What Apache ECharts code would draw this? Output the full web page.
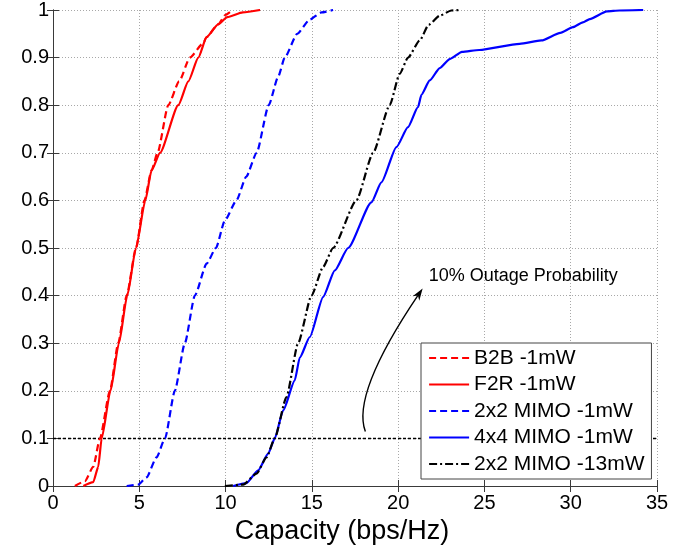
<!DOCTYPE html>
<html><head><meta charset="utf-8">
<script src="https://cdn.jsdelivr.net/npm/echarts@6/dist/echarts.min.js"></script>
<style>html,body{margin:0;padding:0;background:#fff}#c{width:698px;height:550px}</style>
</head><body><div id="c"></div>
<script>
// ---- data (capacity in bps/Hz, CDF value) ----
const seriesNames = ['B2B -1mW', 'F2R -1mW', '2x2 MIMO -1mW', '4x4 MIMO -1mW', '2x2 MIMO -13mW'];

const b2bX = [1.27, 1.85, 2.33, 2.72, 3.30, 3.78, 4.27, 4.81, 5.30, 5.71, 6.06, 6.68, 7.31, 7.93, 8.70, 8.90, 9.57, 10.0, 10.4];
const b2bY = [0, 0.01, 0.04, 0.10, 0.20, 0.30, 0.40, 0.50, 0.60, 0.663, 0.70, 0.80, 0.85, 0.90, 0.93, 0.943, 0.97, 0.99, 1.0];

const f2rX = [1.76, 2.33, 2.62, 2.82, 3.33, 3.82, 4.30, 4.81, 5.35, 5.71, 6.20, 7.26, 7.84, 8.42, 8.90, 9.57, 10.1, 11.0, 12.0];
const f2rY = [0, 0.008, 0.04, 0.10, 0.20, 0.30, 0.40, 0.50, 0.60, 0.663, 0.70, 0.80, 0.85, 0.90, 0.943, 0.97, 0.985, 0.995, 1.0];

const mimo2X = [4.27, 4.94, 5.42, 6.0, 6.49, 7.06, 7.64, 8.22, 8.90, 9.44, 9.96, 10.63, 11.2, 11.8, 12.5, 13.05, 13.43, 14.15, 14.88, 15.56, 16.23];
const mimo2Y = [0, 0.003, 0.018, 0.06, 0.10, 0.20, 0.30, 0.40, 0.467, 0.50, 0.558, 0.60, 0.65, 0.70, 0.80, 0.86, 0.90, 0.95, 0.98, 0.995, 1.0];

const mimo4X = [10.44, 11.21, 11.89, 12.47, 12.85, 13.34, 14.01, 14.30, 14.88, 15.65, 16.33, 17.10, 18.45, 19.03, 19.90, 20.57, 21.15, 21.35, 21.83, 22.41, 22.99, 23.70, 24.70, 27.04, 28.30, 29.40, 30.13, 30.70, 31.10, 32.10, 32.83, 34.2];
const mimo4Y = [0, 0.006, 0.033, 0.068, 0.10, 0.159, 0.222, 0.27, 0.313, 0.397, 0.453, 0.50, 0.596, 0.638, 0.712, 0.754, 0.796, 0.822, 0.852, 0.878, 0.897, 0.912, 0.916, 0.929, 0.936, 0.952, 0.964, 0.974, 0.981, 0.997, 0.999, 1.0];

const mimo2hX = [9.96, 11.02, 11.79, 12.37, 12.85, 13.53, 14.20, 14.98, 15.65, 16.23, 17.58, 18.55, 19.51, 20.09, 20.57, 21.25, 21.77, 22.41, 23.08, 23.57];
const mimo2hY = [0, 0.003, 0.026, 0.06, 0.10, 0.187, 0.30, 0.40, 0.46, 0.50, 0.60, 0.70, 0.80, 0.866, 0.90, 0.936, 0.969, 0.988, 0.999, 1.0];

const outageLevel = 0.1;
const annotationText = '10% Outage Probability';
const annotationPos = [21.77, 0.442];
// arrow: start, control, tip (data units)
const arrowStart = [18.1, 0.1145];
const arrowCtrl = [17.28, 0.1924];
const arrowTip = [21.42, 0.415];

const xTicks = { min: 0, max: 35, step: 5 };
const yTicks = { min: 0, max: 1, step: 0.1 };

const zip = (xs, ys) => xs.map((x, i) => [x, ys[i]]);

const FONT = 'Liberation Sans, Arial, Helvetica, sans-serif';
const axisColor = '#3a3a3a';
const gridStyle = { show: true, lineStyle: { color: '#a8a8a8', width: 1, type: [1, 2] } };

const chart = echarts.init(document.getElementById('c'), null, { renderer: 'canvas' });

function mk(name, xs, ys, color, type) {
  return {
    name, type: 'line', data: zip(xs, ys), showSymbol: false, symbol: 'none',
    smooth: 0.2, smoothMonotone: 'x', animation: false,
    lineStyle: { color, width: 2.2, type }, itemStyle: { color }
  };
}

const series = [
  mk(seriesNames[0], b2bX, b2bY, '#ff0000', [7, 4]),
  mk(seriesNames[1], f2rX, f2rY, '#ff0000', 'solid'),
  mk(seriesNames[2], mimo2X, mimo2Y, '#0000ff', [7, 4]),
  mk(seriesNames[3], mimo4X, mimo4Y, '#0000ff', 'solid'),
  mk(seriesNames[4], mimo2hX, mimo2hY, '#000000', [8, 3, 2, 3])
];
series[0].markLine = {
  silent: true, symbol: ['none', 'none'], animation: false, z: 3,
  label: { show: false },
  lineStyle: { color: '#000', width: 1.3, type: [3, 2] },
  data: [{ yAxis: outageLevel }]
};

const baseX = {
  type: 'value', min: xTicks.min, max: xTicks.max, interval: xTicks.step,
  axisLine: { show: true, lineStyle: { color: axisColor, width: 1 } },
  axisTick: { show: true, inside: true, length: 6, lineStyle: { color: axisColor } },
};
const baseY = {
  type: 'value', min: yTicks.min, max: yTicks.max, interval: yTicks.step,
  axisLine: { show: true, lineStyle: { color: axisColor, width: 1 } },
  axisTick: { show: true, inside: true, length: 6, lineStyle: { color: axisColor } },
};

chart.setOption({
  animation: false,
  backgroundColor: '#fff',
  grid: { left: 53, right: 41, top: 10, bottom: 64, containLabel: false, outerBoundsMode: 'none' },
  legend: {
    data: seriesNames, orient: 'vertical', left: 421, top: 343, z: 20,
    padding: [4, 7, 4, 7], itemWidth: 40, itemHeight: 14, itemGap: 4.5,
    backgroundColor: '#fff', borderColor: '#444', borderWidth: 1, borderRadius: 0,
    itemStyle: { opacity: 0 },
    lineStyle: { width: 2.2 },
    textStyle: { fontFamily: FONT, fontSize: 21, color: '#000', lineHeight: 22 },
    selectedMode: false
  },
  xAxis: [
    Object.assign({}, baseX, {
      position: 'bottom',
      name: 'Capacity (bps/Hz)', nameLocation: 'middle', nameGap: 46,
      nameTextStyle: { fontFamily: FONT, fontSize: 27, color: '#000', verticalAlign: 'middle', padding: [0, 26, 0, 0] },
      axisLabel: { show: true, margin: 7, fontFamily: FONT, fontSize: 20, color: '#000' },
      splitLine: gridStyle
    }),
    Object.assign({}, baseX, { position: 'top', axisLabel: { show: false }, splitLine: { show: false } })
  ],
  yAxis: [
    Object.assign({}, baseY, {
      position: 'left',
      axisLabel: {
        show: true, margin: 4, fontFamily: FONT, fontSize: 20, color: '#000',
        formatter: v => (Math.abs(v) < 1e-9 ? '0' : Math.abs(v - 1) < 1e-9 ? '1' : v.toFixed(1))
      },
      splitLine: gridStyle
    }),
    Object.assign({}, baseY, { position: 'right', axisLabel: { show: false }, splitLine: { show: false } })
  ],
  series
});

function drawAnnotations() {
  const p = d => chart.convertToPixel({ xAxisIndex: 0, yAxisIndex: 0 }, d);
  const s = p(arrowStart), c = p(arrowCtrl), t = p(arrowTip), tp = p(annotationPos);
  const dx = t[0] - c[0], dy = t[1] - c[1];
  const L = Math.hypot(dx, dy), ux = dx / L, uy = dy / L;
  const len = 12, half = 4;
  const bx = t[0] - ux * len, by = t[1] - uy * len;
  const head = [
    [t[0], t[1]],
    [bx - uy * half, by + ux * half],
    [t[0] - ux * len * 0.7, t[1] - uy * len * 0.7],
    [bx + uy * half, by - ux * half]
  ];
  const endX = t[0] - ux * len * 0.7, endY = t[1] - uy * len * 0.7;
  chart.setOption({
    graphic: [
      { type: 'bezierCurve', silent: true, z: 10,
        shape: { x1: s[0], y1: s[1], x2: endX, y2: endY, cpx1: c[0], cpy1: c[1] },
        style: { stroke: '#000', lineWidth: 1.4, fill: null } },
      { type: 'polygon', silent: true, z: 10, shape: { points: head }, style: { fill: '#000' } },
      { type: 'text', silent: true, z: 10, x: tp[0], y: tp[1],
        style: { text: annotationText, fontFamily: FONT, fontSize: 18, fill: '#000', verticalAlign: 'middle', align: 'left' } }
    ]
  });
}
drawAnnotations();
</script>
</body></html>
